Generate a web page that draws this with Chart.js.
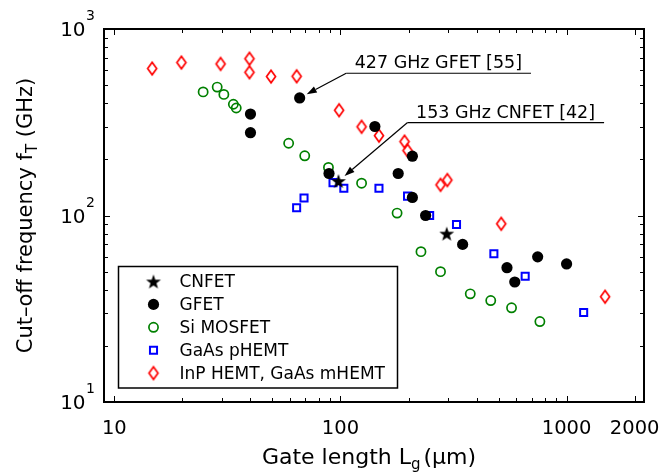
<!DOCTYPE html>
<html>
<head>
<meta charset="utf-8">
<script src="https://cdn.jsdelivr.net/npm/chart.js@4.4.1/dist/chart.umd.min.js"></script>
<style>
  html, body { margin: 0; padding: 0; background: #fff; }
</style>
</head>
<body>
<canvas id="fT" width="663" height="472"></canvas>
<script>
// gate length (um) / cut-off frequency (GHz)
const cnfetL = [98, 295];
const cnfetF = [153, 80];
const gfetL = [40, 40, 66, 89, 142, 180, 208, 208, 238, 347, 545, 590, 745, 1000];
const gfetF = [350, 278, 427, 168, 300, 168, 208, 125, 100, 70, 52.5, 44, 60, 55];
const siL = [24.7, 28.5, 30.5, 33.6, 34.6, 59, 69.5, 88.5, 124, 178, 227, 277, 375, 462, 571, 762];
const siF = [460, 488, 446, 395, 377, 244, 209, 181, 149, 103, 64, 50, 38, 35, 32, 27];
const gaasL = [64, 69, 92.7, 103.5, 148, 198, 248, 326, 477, 656, 1190];
const gaasF = [110, 124, 150, 140, 140, 127, 100, 89.5, 62.4, 47.2, 30.2];
const inpL = [14.7, 19.8, 29.5, 39.6, 39.6, 49.3, 64, 98.6, 124, 148, 192, 198, 277, 297, 514, 1480];
const inpF = [614, 661, 650, 693, 586, 556, 558, 367, 299, 268, 249, 223, 146, 155, 90.3, 36.7];

const seriesNames = ['CNFET', 'GFET', 'Si MOSFET', 'GaAs pHEMT', 'InP HEMT, GaAs mHEMT'];
const xTickValues = [10, 100, 1000, 2000];
const yTickExponents = [1, 2, 3];

const FONT = "'DejaVu Sans', sans-serif";

// callouts: text, point it refers to, elbow of the leader (data coords)
const notes = [
    { text: '427 GHz GFET [55]', target: [66, 427], elbow: [106, 579] },
    { text: '153 GHz CNFET [42]', target: [98, 153], elbow: [198, 315] }
];

function pts(xs, ys) {
    return xs.map((v, i) => ({ x: v, y: ys[i] }));
}

// marker images for the shapes chart.js has no exact match for
function starMarker(r) {
    const c = document.createElement('canvas');
    const s = Math.ceil(2 * r + 2);
    c.width = c.height = s;
    const g = c.getContext('2d');
    g.translate(s / 2, s / 2 + r * 0.1);
    g.beginPath();
    for (let i = 0; i < 10; i++) {
        const rr = i % 2 ? r * 0.4 : r;
        const a = -Math.PI / 2 + i * Math.PI / 5;
        g.lineTo(rr * Math.cos(a), rr * Math.sin(a));
    }
    g.closePath();
    g.fillStyle = '#000';
    g.fill();
    return c;
}

function diamondMarker(hw, hh, color, lw) {
    const c = document.createElement('canvas');
    c.width = Math.ceil(2 * hw + 2 * lw + 1);
    c.height = Math.ceil(2 * hh + 2 * lw + 1);
    const g = c.getContext('2d');
    g.translate(c.width / 2, c.height / 2);
    g.beginPath();
    g.moveTo(0, -hh);
    g.lineTo(hw, 0);
    g.lineTo(0, hh);
    g.lineTo(-hw, 0);
    g.closePath();
    g.strokeStyle = color;
    g.lineWidth = lw;
    g.stroke();
    return c;
}

const star = starMarker(7.8);
const diamond = diamondMarker(4.5, 6.2, '#ff0000', 1.7);

const datasets = [
    { label: seriesNames[0], data: pts(cnfetL, cnfetF), pointStyle: star, pointRadius: 7 },
    { label: seriesNames[1], data: pts(gfetL, gfetF), pointStyle: 'circle', pointRadius: 5.6,
      pointBackgroundColor: '#000', pointBorderColor: '#000', pointBorderWidth: 0 },
    { label: seriesNames[2], data: pts(siL, siF), pointStyle: 'circle', pointRadius: 4.6,
      pointBackgroundColor: 'rgba(0,0,0,0)', pointBorderColor: '#008000', pointBorderWidth: 1.7 },
    { label: seriesNames[3], data: pts(gaasL, gaasF), pointStyle: 'rect', pointRadius: 5,
      pointBackgroundColor: 'rgba(0,0,0,0)', pointBorderColor: '#0000ff', pointBorderWidth: 2 },
    { label: seriesNames[4], data: pts(inpL, inpF), pointStyle: diamond, pointRadius: 6 }
];

function logTicks(min, max) {
    const out = [];
    for (let d = 1; d <= 1000; d *= 10) {
        for (let m = 1; m < 10; m++) {
            const v = m * d;
            if (v > min && v < max) out.push({ v: v, major: m === 1 || v === 2000 });
        }
    }
    return out;
}

function line(ctx, x1, y1, x2, y2) {
    ctx.beginPath();
    ctx.moveTo(x1, y1);
    ctx.lineTo(x2, y2);
    ctx.stroke();
}

// frame, inward ticks, tick labels and axis titles
const axesPlugin = {
    id: 'axes',
    afterDatasetsDraw(chart) {
        const ctx = chart.ctx;
        const a = chart.chartArea;
        const x = chart.scales.x, y = chart.scales.y;
        ctx.save();
        ctx.strokeStyle = '#000';
        ctx.fillStyle = '#000';
        ctx.lineWidth = 1;
        logTicks(x.min, x.max).forEach(t => {
            const px = Math.round(x.getPixelForValue(t.v)) + 0.5;
            const len = t.major ? 6 : 4;
            line(ctx, px, a.bottom, px, a.bottom - len);
            line(ctx, px, a.top, px, a.top + len);
        });
        logTicks(y.min, y.max).forEach(t => {
            const py = Math.round(y.getPixelForValue(t.v)) + 0.5;
            const len = t.major ? 6 : 4;
            line(ctx, a.left, py, a.left + len, py);
            line(ctx, a.right, py, a.right - len, py);
        });
        ctx.lineWidth = 2;
        ctx.strokeRect(a.left, a.top, a.right - a.left, a.bottom - a.top);

        ctx.font = '19.5px ' + FONT;
        ctx.textAlign = 'center';
        ctx.textBaseline = 'alphabetic';
        xTickValues.forEach(v => {
            ctx.fillText(String(v), x.getPixelForValue(v), a.bottom + 31.5);
        });

        yTickExponents.forEach(e => {
            const py = y.getPixelForValue(Math.pow(10, e));
            ctx.font = '14px ' + FONT;
            const ws = ctx.measureText(String(e)).width;
            const right = a.left - 9;
            ctx.textAlign = 'left';
            ctx.fillText(String(e), right - ws, py - 9);
            ctx.font = '20px ' + FONT;
            ctx.textAlign = 'right';
            ctx.fillText('10', right - ws - 0.5, py + 7);
        });

        // x title with subscript
        ctx.textAlign = 'left';
        const xa = 'Gate length L', xs = 'g', xb = '(\u03bcm)';
        ctx.font = '22px ' + FONT;
        const wa = ctx.measureText(xa).width, wb = ctx.measureText(xb).width;
        ctx.font = '15px ' + FONT;
        const wsub = ctx.measureText(xs).width;
        let cx = 369 - (wa + wsub + 3 + wb) / 2;
        const by = a.bottom + 61.5;
        ctx.font = '22px ' + FONT;
        ctx.fillText(xa, cx, by);
        ctx.font = '15px ' + FONT;
        ctx.fillText(xs, cx + wa, by + 5);
        ctx.font = '22px ' + FONT;
        ctx.fillText(xb, cx + wa + wsub + 3, by);

        // y title, rotated
        ctx.translate(31.5, (a.top + a.bottom) / 2);
        ctx.rotate(-Math.PI / 2);
        const ya = 'Cut\u2013off frequency f', ys = 'T', yb = ' (GHz)';
        ctx.font = '21px ' + FONT;
        const ua = ctx.measureText(ya).width, ub = ctx.measureText(yb).width;
        ctx.font = '15px ' + FONT;
        const us = ctx.measureText(ys).width;
        cx = -(ua + us + ub) / 2;
        ctx.font = '21px ' + FONT;
        ctx.fillText(ya, cx, 0);
        ctx.font = '15px ' + FONT;
        ctx.fillText(ys, cx + ua, 5);
        ctx.font = '21px ' + FONT;
        ctx.fillText(yb, cx + ua + us, 0);
        ctx.restore();
    }
};

// boxed legend in the lower left of the plot
const legendPlugin = {
    id: 'boxLegend',
    afterDatasetsDraw(chart) {
        const ctx = chart.ctx;
        const a = chart.chartArea;
        const left = a.left + 14.5, top = a.top + 237.5;
        const w = 279, h = 121.5, row = 22.9;
        ctx.save();
        ctx.fillStyle = '#fff';
        ctx.fillRect(left, top, w, h);
        ctx.strokeStyle = '#000';
        ctx.lineWidth = 1.5;
        ctx.strokeRect(left, top, w, h);
        chart.data.datasets.forEach((ds, i) => {
            const cy = top + 15 + i * row;
            const mx = left + 35;
            ctx.fillStyle = ds.pointBackgroundColor || '#000';
            ctx.strokeStyle = ds.pointBorderColor || '#000';
            ctx.lineWidth = ds.pointBorderWidth || 0;
            Chart.helpers.drawPoint(ctx, {
                pointStyle: ds.pointStyle, rotation: 0,
                radius: ds.pointRadius, borderWidth: ds.pointBorderWidth || 0
            }, mx, cy);
            ctx.fillStyle = '#000';
            ctx.font = '17px ' + FONT;
            ctx.textAlign = 'left';
            ctx.textBaseline = 'middle';
            ctx.fillText(ds.label, left + 61, cy + 1);
        });
        ctx.restore();
    }
};

// underlined callouts with arrows
const notePlugin = {
    id: 'notes',
    afterDatasetsDraw(chart) {
        const ctx = chart.ctx;
        const x = chart.scales.x, y = chart.scales.y;
        ctx.save();
        ctx.strokeStyle = '#000';
        ctx.fillStyle = '#000';
        ctx.lineWidth = 1.2;
        ctx.font = '17.5px ' + FONT;
        ctx.textAlign = 'left';
        ctx.textBaseline = 'alphabetic';
        notes.forEach(n => {
            const tx = x.getPixelForValue(n.target[0]), ty = y.getPixelForValue(n.target[1]);
            const ex = x.getPixelForValue(n.elbow[0]), ey = y.getPixelForValue(n.elbow[1]);
            const tw = ctx.measureText(n.text).width;
            line(ctx, ex, ey, ex + tw + 17.5, ey);
            ctx.fillText(n.text, ex + 8.5, ey - 5);
            const d = Math.hypot(ex - tx, ey - ty);
            const ux = (ex - tx) / d, uy = (ey - ty) / d;
            const px = tx + ux * 8, py = ty + uy * 8;
            const bx = px + ux * 10, by = py + uy * 10;
            line(ctx, ex, ey, bx, by);
            ctx.beginPath();
            ctx.moveTo(px, py);
            ctx.lineTo(bx - uy * 3.5, by + ux * 3.5);
            ctx.lineTo(bx + uy * 3.5, by - ux * 3.5);
            ctx.closePath();
            ctx.fill();
        });
        ctx.restore();
    }
};

new Chart(document.getElementById('fT').getContext('2d'), {
    type: 'scatter',
    data: { datasets: datasets },
    options: {
        responsive: false,
        animation: false,
        devicePixelRatio: 1,
        layout: { padding: { left: 104, right: 19, top: 29, bottom: 70 } },
        scales: {
            x: { type: 'logarithmic', min: 9, max: 2200, display: false },
            y: { type: 'logarithmic', min: 10, max: 1000, display: false }
        },
        plugins: {
            legend: { display: false },
            tooltip: { enabled: false }
        }
    },
    plugins: [axesPlugin, notePlugin, legendPlugin]
});
</script>
</body>
</html>
